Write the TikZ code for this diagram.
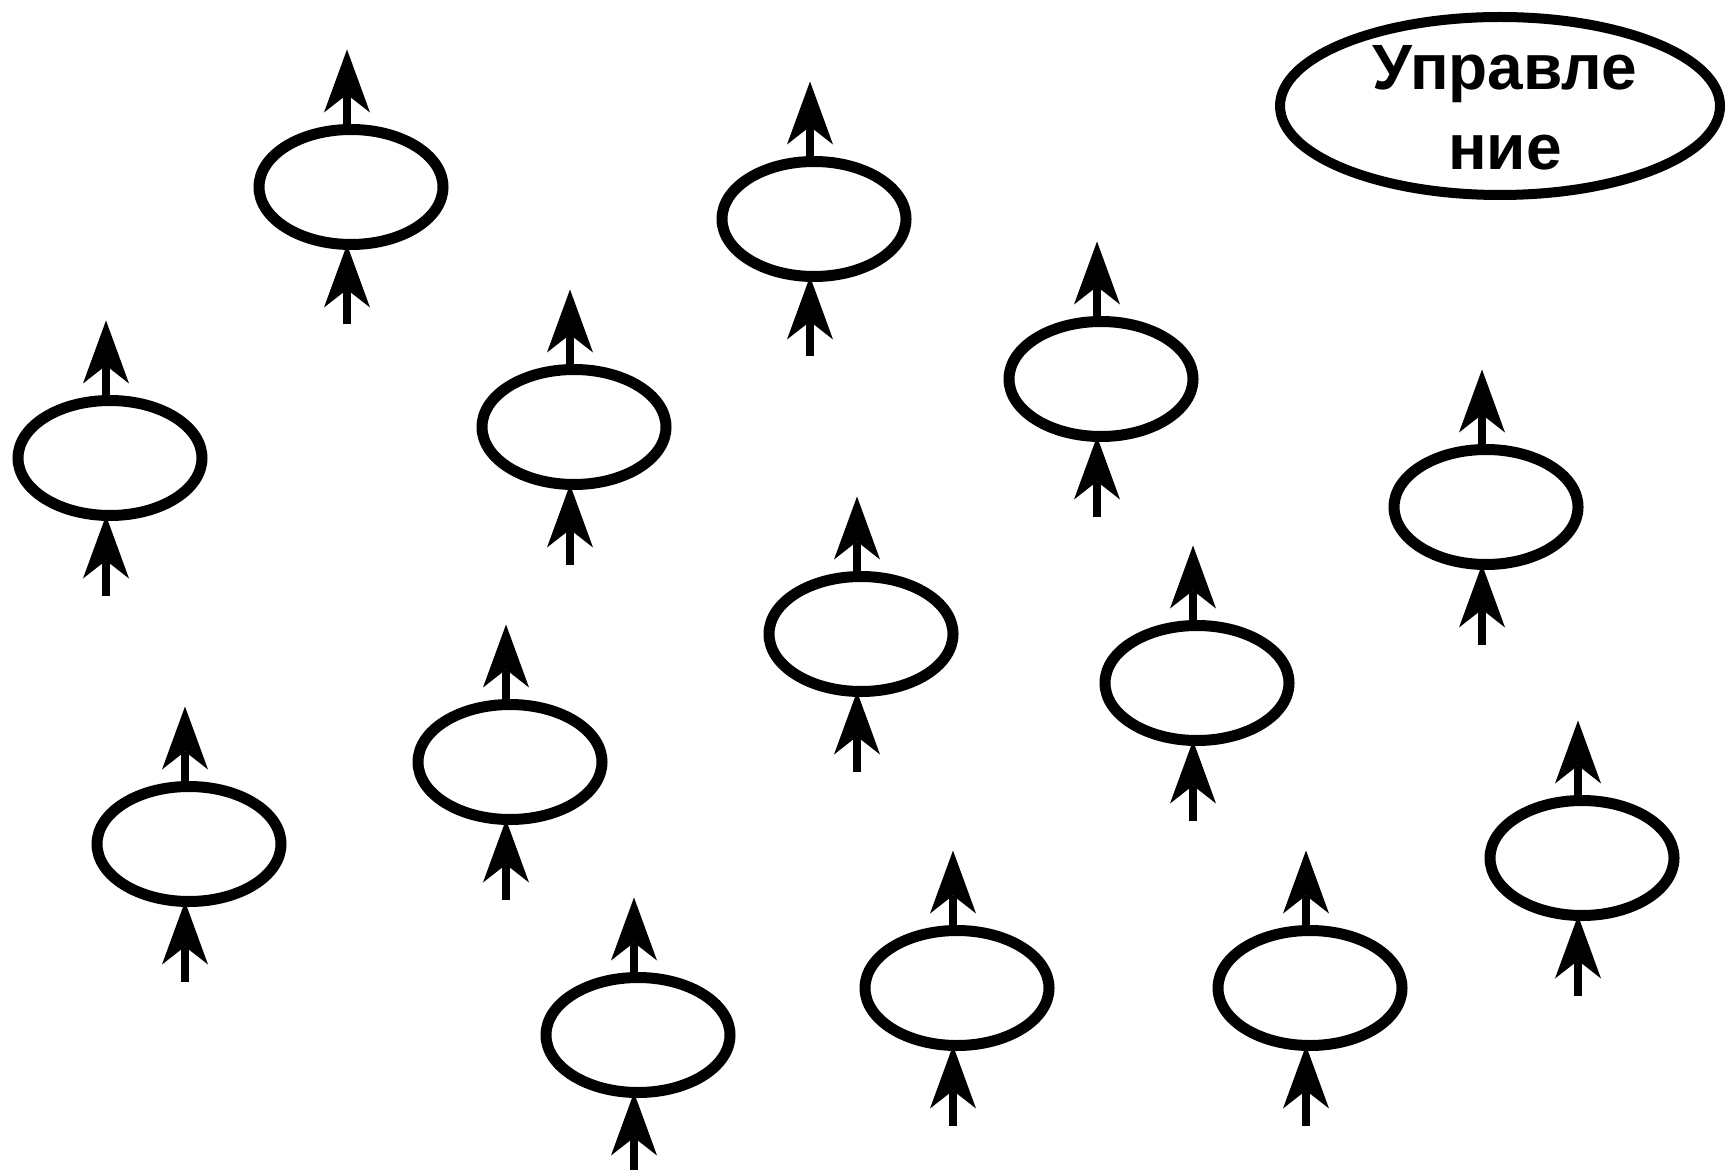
\documentclass[tikz,border=0pt]{standalone}
\usepackage{fontspec}
\setmainfont{Liberation Sans}
\usetikzlibrary{arrows.meta,shapes.geometric}

\begin{document}
\begin{tikzpicture}[x=0.5pt,y=-0.5pt,
  spin/.style={draw,ellipse,line width=5.5pt,inner sep=0pt,outer sep=0pt,
    minimum width=92pt,minimum height=57.5pt},
  ctrl/.style={draw,ellipse,line width=5pt,inner sep=0pt,outer sep=0pt,
    minimum width=220pt,minimum height=89pt},
  arr/.style={-{Stealth[length=31.5pt,width=23pt,inset=9pt,line width=0pt]},line width=4pt}
]
\useasboundingbox (0,0) rectangle (1727,1170);
% control
\node[ctrl] (ctrl) at (1500,106) {};
\node[font=\bfseries\fontsize{32pt}{40pt}\selectfont,align=center] (ctrltext) at (1505,108) {Управле\\ние};
% spins
\foreach \n/\x/\y in {1/351/187,2/814/219,3/110/458,4/574/427,5/1101/379,
    6/1486/507,7/861/634,8/1197/683,9/189/844,10/510/762,
    11/638/1035,12/957/988,13/1310/988,14/1582/858}{
  \node[spin] (s\n) at (\x,\y) {};
  \coordinate (s\n-in) at ([shift={(-2pt,-40pt)}]s\n.south);
  \coordinate (s\n-out) at ([shift={(-2pt,40pt)}]s\n.north);
  \draw[arr] (s\n-in) -- (s\n-in |- s\n.south);
  \draw[arr] (s\n-out |- s\n.north) -- (s\n-out);
}
\end{tikzpicture}
\end{document}
